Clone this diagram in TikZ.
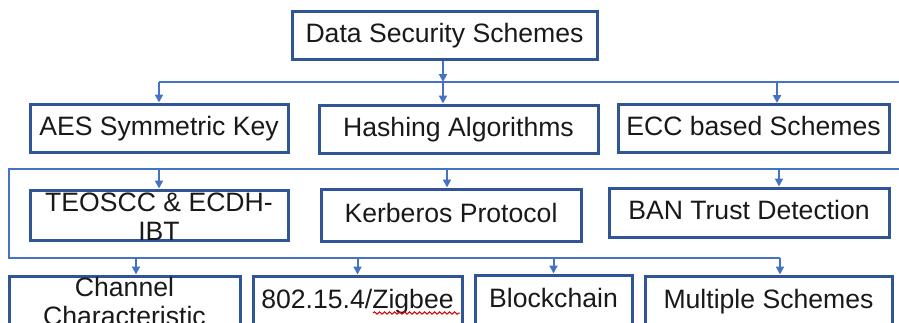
\documentclass[tikz,border=0pt]{standalone}
\usepackage{fontspec}
\setmainfont{Liberation Sans}
\usetikzlibrary{arrows.meta,decorations.pathmorphing}
\definecolor{boxblue}{HTML}{2F5597}
\definecolor{lineblue}{HTML}{4472C4}
\tikzset{
	box/.style={draw=boxblue, line width=1.5pt, minimum height=24pt, inner sep=0pt, text height=0.92em, text depth=0.2em, text=black!90, font=\fontsize{13.3}{15}\selectfont},
	txt/.style={align=center, inner sep=0pt, text=black!90, font=\fontsize{13.3}{14.5}\selectfont},
	bus/.style={draw=lineblue, line width=1pt},
	arr/.style={bus, -{Triangle[length=4pt,width=4pt]}},
}
\begin{document}
\begin{tikzpicture}[x=0.5pt,y=-0.5pt]
	\useasboundingbox (0,0) rectangle (899,322);
	\clip (0,0) rectangle (899,322);
	%\draw[step=50,color=gray] (0,0) grid (899,322);
			\node[box, minimum width=152.5pt] (dss) at (444.5,35) {Data Security Schemes};
			\node[box, minimum width=129pt] (aes) at (159,128) {AES Symmetric Key};
			\node[box, minimum width=139.5pt] (hash) at (458.5,129) {Hashing Algorithms};
			\node[box, minimum width=135.5pt] (ecc) at (753.5,128.5) {ECC based Schemes};
			\node[box, minimum width=129pt, minimum height=25pt] (teo) at (159,215) {};
			\node[txt] (teotxt) at (159,217) {TEOSCC \& ECDH-\\IBT};
			\node[box, minimum width=130pt, minimum height=26pt] (kerb) at (451,215) {Kerberos Protocol};
			\node[box, minimum width=140pt, minimum height=24.5pt] (ban) at (749,212.5) {BAN Trust Detection};
			\node[box, minimum width=115.5pt, minimum height=25pt] (chan) at (124.5,301) {};
			\node[txt] (chantxt) at (124.5,301) {Channel\\Characteristic};
			\node[box, minimum width=104.5pt, minimum height=25pt] (zig) at (357.5,301) {802.15.4/Zigbee};
			\node[box, minimum width=78.5pt, minimum height=25pt] (block) at (553.5,300) {Blockchain};
			\node[box, minimum width=123.5pt, minimum height=25pt] (multi) at (768.5,301) {Multiple Schemes};
			% first bus
			\coordinate (j1) at (443,82);
			\coordinate (e1) at (905,82);
			\coordinate (eccin) at ([xshift=11.75pt]ecc.north);
			\draw[arr] (dss.south -| j1) -- (j1);
			\draw[bus] (aes.north |- j1) -- (e1);
			\draw[arr] (aes.north |- j1) -- (aes.north);
			\draw[arr] (j1) -- (j1 |- hash.north);
			\draw[arr] (eccin |- j1) -- (eccin);
			% second and third bus
			\coordinate (b2r) at (905,169);
			\coordinate (b2l) at (9,169);
			\coordinate (b3l) at (9,258);
			\coordinate (b3r) at (780,258);
			\draw[bus] (b2r) -- (b2l) -- (b3l) -- (b3r);
			\coordinate (kerbin) at ([xshift=-2pt]kerb.north);
			\coordinate (banin) at ([xshift=15pt]ban.north);
			\draw[arr] (teo.north |- b2l) -- (teo.north);
			\draw[arr] (kerbin |- b2l) -- (kerbin);
			\draw[arr] (banin |- b2l) -- (banin);
			\coordinate (chanin) at ([xshift=5.75pt]chan.north);
			\draw[arr] (chanin |- b3l) -- (chanin);
			\draw[arr] (zig.north |- b3l) -- (zig.north);
			\draw[arr] (block.north |- b3l) -- (block.north);
			\draw[arr] (b3r) -- (b3r |- multi.north);
			\draw[red!85!black, line width=0.5pt, decorate, decoration={snake, amplitude=0.6pt, segment length=2.5pt}] ([xshift=7.75pt,yshift=-6pt]zig.center) -- ([xshift=51.25pt,yshift=-6pt]zig.center);
	\end{tikzpicture}
\end{document}
